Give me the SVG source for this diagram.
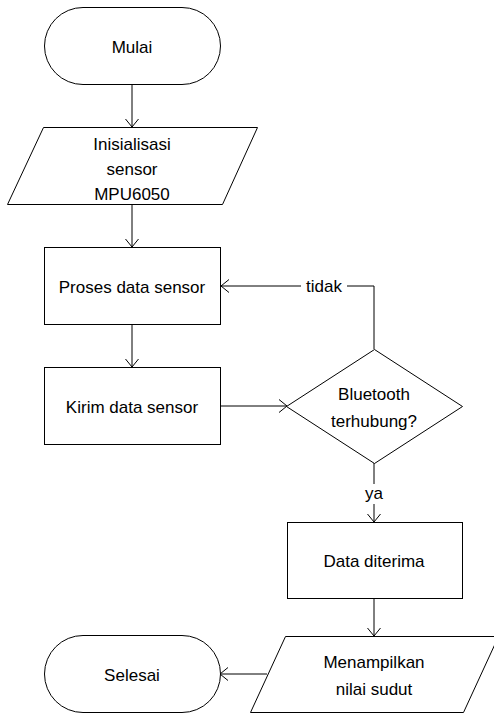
<svg xmlns="http://www.w3.org/2000/svg" width="494" height="713" viewBox="0 0 494 713">
<style>
.s{fill:#fff;stroke:#000;stroke-width:1}
.t{font-family:"Liberation Sans",Arial,sans-serif;font-size:17px;fill:#000;text-anchor:middle}
.c{fill:none;stroke:#000;stroke-width:1}
</style>
<defs>
<marker id="arr" viewBox="-9 -7 10 14" refX="0" refY="0" markerWidth="10" markerHeight="14" markerUnits="userSpaceOnUse" orient="auto">
<path d="M-8,-6.5 L0,0 L-8,6.5" fill="none" stroke="#000" stroke-width="1"/>
</marker>
</defs>
<rect width="494" height="713" fill="#fff"/>
<g id="connectors">
<path class="c" d="M132,84 V127" marker-end="url(#arr)"/>
<path class="c" d="M132,204 V247" marker-end="url(#arr)"/>
<path class="c" d="M132,324 V367" marker-end="url(#arr)"/>
<path class="c" d="M221,406 H287" marker-end="url(#arr)"/>
<path class="c" d="M374,349 V286 H221" marker-end="url(#arr)"/>
<path class="c" d="M374,463 V522" marker-end="url(#arr)"/>
<path class="c" d="M374,598 V636" marker-end="url(#arr)"/>
<path class="c" d="M267,674 H220" marker-end="url(#arr)"/>
<rect x="301" y="277" width="46" height="18" fill="#fff"/>
<text class="t" x="324" y="292">tidak</text>
<rect x="362" y="484" width="24" height="20" fill="#fff"/>
<text class="t" x="374" y="499">ya</text>
</g>
<g id="mulai">
<rect class="s" x="44.5" y="7.5" width="176" height="77" rx="38.5"/>
<text class="t" x="132" y="53">Mulai</text>
</g>
<g id="inisialisasi">
<polygon class="s" points="43.5,127.5 257.5,127.5 222.5,204.5 7.5,204.5"/>
<text class="t" x="132" y="150">Inisialisasi</text>
<text class="t" x="132" y="175">sensor</text>
<text class="t" x="132" y="200">MPU6050</text>
</g>
<g id="proses">
<rect class="s" x="44.5" y="247.5" width="176" height="77"/>
<text class="t" x="132" y="293">Proses data sensor</text>
</g>
<g id="kirim">
<rect class="s" x="44.5" y="367.5" width="176" height="77"/>
<text class="t" x="132" y="413">Kirim data sensor</text>
</g>
<g id="bluetooth">
<polygon class="s" points="374.5,349.5 462.5,406.5 374.5,463.5 286.5,406.5"/>
<text class="t" x="374" y="400">Bluetooth</text>
<text class="t" x="374" y="427">terhubung?</text>
</g>
<g id="data">
<rect class="s" x="287.5" y="522.5" width="175" height="76"/>
<text class="t" x="374" y="567">Data diterima</text>
</g>
<g id="menampilkan">
<polygon class="s" points="285.5,636.5 498.5,636.5 463.5,712.5 250.5,712.5"/>
<text class="t" x="374" y="668">Menampilkan</text>
<text class="t" x="374" y="695">nilai sudut</text>
</g>
<g id="selesai">
<rect class="s" x="44.5" y="635.5" width="176" height="77" rx="38.5"/>
<text class="t" x="132" y="681">Selesai</text>
</g>
</svg>
